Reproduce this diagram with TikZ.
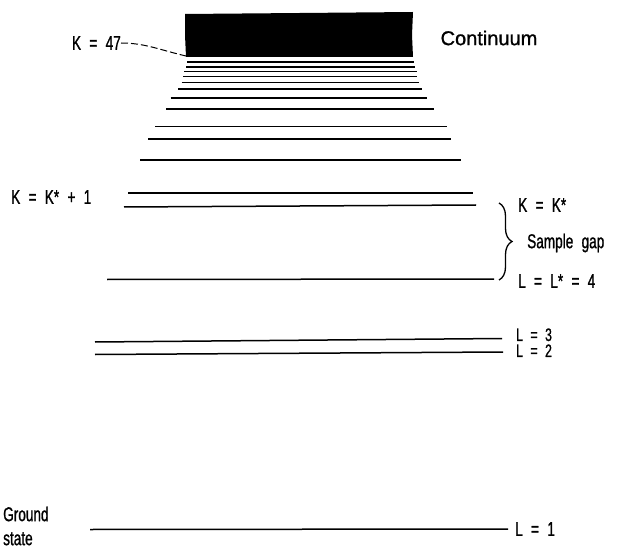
\documentclass[tikz,border=0pt]{standalone}
\usepackage{fontspec}
\setmainfont[FakeStretch=0.68,WordSpace=2.2,FakeBold=1]{Liberation Sans}
\newfontfamily\widefont[FakeBold=1]{Liberation Sans}
\usetikzlibrary{decorations.pathreplacing}

\begin{document}
\begin{tikzpicture}[x=1pt, y=-1pt,
    level/.style={line width=1.5pt},
    lbl/.style={font=\fontsize{20}{24}\selectfont, inner sep=0pt, anchor=west, align=left},
    tight/.style={font=\fontsize{18}{20}\selectfont, text height=1.5ex, text depth=0pt}]
  \useasboundingbox (0,0) rectangle (621,548);

  % continuum band
  \fill (185,14) -- (300,13) -- (413,12) -- (412,35) -- (413,57) -- (186,57) -- (185,35) -- cycle;
  \coordinate (kcorner) at (186,56);

  % levels crowding towards the continuum
  \foreach \y/\xa/\xb in {62/187/414, 67/186/415, 71.5/184/416.5, 76.5/183/417, 82.5/181.5/419,
      89/178/421.5, 98/170.5/426.5, 109/166/434, 126.7/155/446.5, 139/148/451, 160/140/460.5}
    \draw[level] (\xa,\y) -- (\xb,\y);

  % sampled levels
  \draw[level] (128,193) -- (473,193);
  \draw[level] (124,207) -- (476,205);
  \draw[level] (107,279.5) -- (494,279);
  \draw[level] (95,342) -- (502,338.5);
  \draw[level] (95,354.5) -- (503,352);
  \draw[level] (90,529.5) -- (508,529);

  % labels
  \node (k47) [lbl, anchor=east] at (121,43) {K = 47};
  \node (cont) [font=\widefont\fontsize{20}{24}\selectfont, inner sep=0pt] at (489,38) {Continuum};
  \node (kk1) [lbl] at (11,197) {K = K* + 1};
  \node (kstar) [lbl] at (518,205) {K = K*};
  \node (gap) [lbl] at (527,243) {Sample gap};
  \node (lstar) [lbl] at (518,281) {L = L* = 4};
  \node (l3) [lbl, tight] at (516,337) {L = 3};
  \node (l2) [lbl, tight] at (516,353) {L = 2};
  \node (ground) [lbl] at (3,526) {Ground\\state};
  \node (l1) [lbl] at (515,529) {L = 1};

  \draw[line width=1pt, dash pattern=on 7pt off 3pt] (k47.east) .. controls (145,43) and (160,50) .. (kcorner);
  \draw[line width=1.3pt, decorate, decoration={brace, amplitude=13pt}] (499,203) -- (499,280);
\end{tikzpicture}
\end{document}
